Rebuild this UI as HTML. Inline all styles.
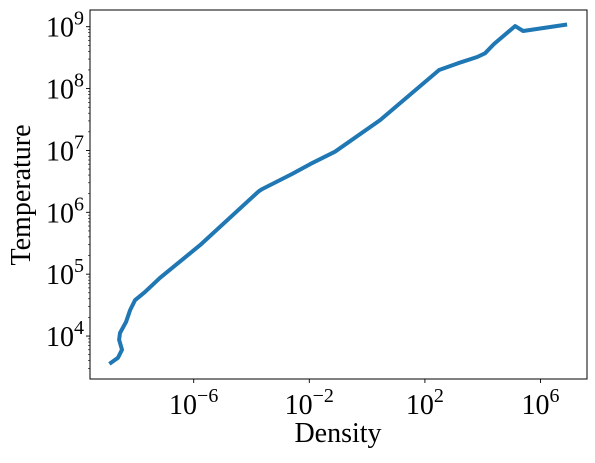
<!DOCTYPE html>
<html><head><meta charset="utf-8"><style>
body{margin:0;background:#fff;}
svg text{font-family:"Liberation Serif",serif;fill:#000;}
</style></head><body>
<svg id="chart" width="595" height="458" xmlns="http://www.w3.org/2000/svg"></svg>
<script>
const logDensity=[-8.86,-8.62,-8.48,-8.58,-8.55,-8.34,-8.2,-8.03,-7.69,-7.17,-5.78,-3.75,-3.65,-2.6,-1.97,-1.11,0.45,2.49,3.15,3.81,4.08,4.39,5.12,5.4,6.85];
const logTemp=[3.57,3.65,3.78,3.94,4.05,4.23,4.42,4.58,4.71,4.94,5.47,6.34,6.37,6.62,6.78,6.98,7.49,8.3,8.41,8.51,8.57,8.72,9.01,8.93,9.03];
const xTicks=[-6,-2,2,6];
const yTicks=[4,5,6,7,8,9];
const L=90,R=587,T=10,B=379;
const X=v=>193.7+(v+6)*28.9;
const Y=v=>26.7+(9-v)*61.87;
const svg=document.getElementById('chart');
const NS='http://www.w3.org/2000/svg';
function mk(tag,attrs,parent){const e=document.createElementNS(NS,tag);for(const k in attrs)e.setAttribute(k,attrs[k]);(parent||svg).appendChild(e);return e;}
let d=logDensity.map((v,i)=>(i?'L':'M')+X(v).toFixed(1)+' '+Y(logTemp[i]).toFixed(1)).join(' ');
const line=mk('path',{d:d,fill:'none',stroke:'#1f77b4','stroke-width':4,'stroke-linejoin':'round','stroke-linecap':'square'});


const frame=mk('rect',{x:L,y:T,width:R-L,height:B-T,fill:'none',stroke:'#000','stroke-width':1});


xTicks.forEach(t=>{
  mk('line',{x1:X(t),x2:X(t),y1:B,y2:B+4,stroke:'#000','stroke-width':0.9});
  const tx=mk('text',{x:X(t),y:B+35,'font-size':28,'text-anchor':'middle'});
  
  
  tx.innerHTML='10<tspan dy="-12" font-size="20">'+(t<0?'\u2212'+(-t):t)+'</tspan>';
});
yTicks.forEach(t=>{
  mk('line',{x1:L-4,x2:L,y1:Y(t),y2:Y(t),stroke:'#000','stroke-width':0.9});
  const tx=mk('text',{x:L-6,y:Y(t)+10,'font-size':28,'text-anchor':'end'});
  
  
  tx.innerHTML='10<tspan dy="-12" font-size="20">'+t+'</tspan>';
});
for(let e=3;e<=9;e++){for(let m=2;m<=9;m++){const v=e+Math.log10(m);const y=Y(v);if(y>T&&y<B)mk('line',{x1:L-2,x2:L,y1:y,y2:y,stroke:'#000','stroke-width':0.6});}}
const xl=mk('text',{x:338,y:442,'font-size':28,'text-anchor':'middle'});
xl.textContent='Density';


const yl=mk('text',{x:0,y:0,'font-size':28,'text-anchor':'middle',transform:'translate(30,195) rotate(-90)'});
yl.textContent='Temperature';


</script>
</body></html>
